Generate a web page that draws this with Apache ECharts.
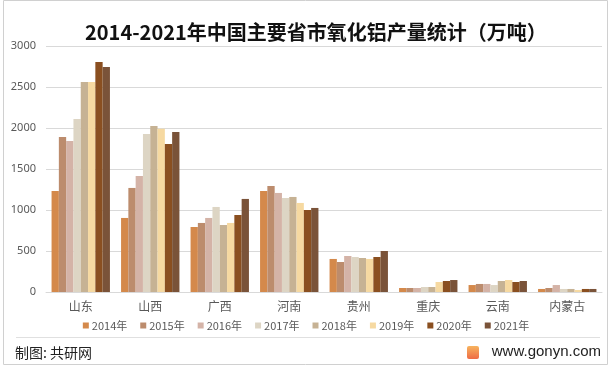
<!DOCTYPE html>
<html><head><meta charset="utf-8">
<script src="https://cdn.jsdelivr.net/npm/echarts@6/dist/echarts.min.js"></script>
<style>html,body{margin:0;padding:0;background:#fff}#c{width:612px;height:370px}</style>
</head><body><div id="c"></div>
<script>
var categories = ['山东','山西','广西','河南','贵州','重庆','云南','内蒙古'];
var years = ['2014年','2015年','2016年','2017年','2018年','2019年','2020年','2021年'];
var v2014 = [1232, 903, 793, 1232, 403, 49, 85, 37];
var v2015 = [1890, 1269, 842, 1293, 366, 49, 98, 49];
var v2016 = [1842, 1415, 903, 1208, 439, 49, 98, 85];
var v2017 = [2110, 1928, 1037, 1147, 427, 61, 85, 37];
var v2018 = [2562, 2025, 817, 1159, 415, 61, 134, 37];
var v2019 = [2562, 1992, 842, 1086, 403, 122, 146, 24];
var v2020 = [2806, 1806, 939, 1000, 427, 134, 122, 37];
var v2021 = [2745, 1952, 1135, 1025, 500, 146, 134, 37];
var yTicks = [0, 500, 1000, 1500, 2000, 2500, 3000];
var colors = ['#D4894B','#BC8C6D','#D4B3A7','#DDD5C4','#C6B294','#F6D9A1','#8A4F20','#7A5339'];
var seriesVals = [v2014, v2015, v2016, v2017, v2018, v2019, v2020, v2021];

var chart = echarts.init(document.getElementById('c'));
chart.setOption({
  animation: false,
  title: {
    text: '2014-2021年中国主要省市氧化铝产量统计（万吨）',
    left: 80, top: 17,
    textStyle: {fontSize: 20, fontWeight: 'bold', color: '#111', fontFamily: 'Noto Sans CJK SC'}
  },
  grid: {left: 46, right: 10, top: 46, bottom: 78},
  legend: {
    data: years, bottom: 34, left: 'center', itemWidth: 6, itemHeight: 6, itemGap: 13,
    icon: 'rect',
    textStyle: {fontSize: 11, color: '#595959', fontFamily: 'Noto Sans CJK SC', padding: [0,0,0,-2]}
  },
  xAxis: {
    type: 'category', data: categories,
    axisLine: {lineStyle: {color: '#d9d9d9', width: 1}},
    axisTick: {show: false},
    axisLabel: {fontSize: 12, color: '#595959', margin: 8, fontFamily: 'Noto Sans CJK SC'}
  },
  yAxis: {
    type: 'value', min: yTicks[0], max: yTicks[yTicks.length-1], interval: 500,
    axisLine: {show: false}, axisTick: {show: false},
    splitLine: {lineStyle: {color: '#d9d9d9'}},
    axisLabel: {fontSize: 11, color: '#595959', margin: 10, fontFamily: 'Noto Sans',
      formatter: function(v){ return String(v); }}
  },
  series: seriesVals.map(function(v, i){
    return {name: years[i], type: 'bar', data: v, barGap: '0%', barCategoryGap: '16%',
      itemStyle: {color: colors[i]}};
  }),
  graphic: [
    {type: 'rect', shape: {x: 3.5, y: 0.5, width: 604, height: 364}, style: {fill: 'none', stroke: '#d0d0d0', lineWidth: 1}, silent: true},
    {type: 'line', shape: {x1: 16, y1: 337.5, x2: 600, y2: 337.5}, style: {stroke: '#e0e0e0', lineWidth: 1}},
    {type: 'text', left: 15, top: 346, style: {text: '制图: 共研网', fontSize: 14, fill: '#222', fontFamily: 'Noto Sans CJK SC'}},
    {type: 'rect', shape: {x: 467, y: 346, width: 12, height: 13, r: 2},
      style: {fill: new echarts.graphic.LinearGradient(0,0,0,1,[{offset:0,color:'#F7B35E'},{offset:1,color:'#EE6B45'}])}},
    {type: 'text', right: 11, top: 344, style: {text: 'www.gonyn.com', fontSize: 15, fill: '#222', fontFamily: 'Liberation Sans'}}
  ]
});
</script></body></html>
